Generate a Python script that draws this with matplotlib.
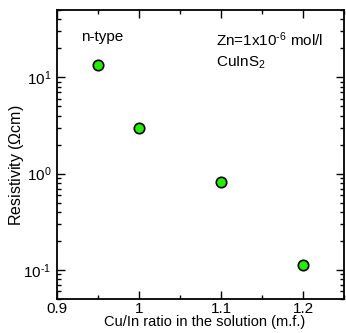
import matplotlib
matplotlib.use('Agg')
import matplotlib.pyplot as plt
from matplotlib.ticker import LogLocator, MultipleLocator, NullFormatter

plt.rcParams['font.family'] = ['Liberation Sans', 'DejaVu Sans']
plt.rcParams['mathtext.fontset'] = 'custom'
plt.rcParams['mathtext.rm'] = 'Liberation Sans'
plt.rcParams['mathtext.it'] = 'Liberation Sans'

# data
cu_in_ratio = [0.95, 1.0, 1.1, 1.2]
resistivity = [13.3, 2.95, 0.81, 0.112]

x_ticks = [0.9, 1.0, 1.1, 1.2]
x_labels = ['0.9', '1', '1.1', '1.2']
y_ticks = [0.1, 1, 10]
y_labels = ['10$^{\\text{-}1}$', '10$^{0}$', '10$^{1}$']

fig = plt.figure(figsize=(3.46, 3.33), dpi=100)
ax = fig.add_axes([57/346, 1 - 299/333, 287/346, 289/333])

ax.plot(cu_in_ratio, resistivity, 'o', ms=7.5, mfc='#22ee00', mec='black', mew=1.2)

ax.set_yscale('log')
ax.set_xlim(0.9, 1.25)
ax.set_ylim(0.05, 50)

ax.xaxis.set_minor_locator(MultipleLocator(0.05))
ax.set_xticks(x_ticks)
ax.set_xticklabels(x_labels)
ax.set_yticks(y_ticks)
ax.set_yticklabels(y_labels)
ax.yaxis.set_minor_locator(LogLocator(base=10, subs=range(2, 10), numticks=20))
ax.yaxis.set_minor_formatter(NullFormatter())

ax.tick_params(which='both', direction='in', top=True, right=True, labelsize=11, width=1)
ax.tick_params(axis='x', pad=2)
ax.tick_params(axis='y', pad=4)
ax.tick_params(which='major', length=6)
ax.tick_params(which='minor', length=3)
for s in ax.spines.values():
    s.set_linewidth(1.3)

ax.set_xlabel('Cu/In ratio in the solution (m.f.)', fontsize=10.5, va='center')
ax.xaxis.set_label_coords(0.516, -0.08)
ax.set_ylabel('Resistivity ($\\Omega$cm)', fontsize=11.5, va='center')
ax.yaxis.set_label_coords(-0.14, 0.464)

ax.text(0.085, 0.93, 'n-type', transform=ax.transAxes, fontsize=11, va='top')
ax.text(0.555, 0.93, 'Zn=1x10$^{\\text{-}6}$ mol/l', transform=ax.transAxes, fontsize=11, va='top')
ax.text(0.555, 0.845, 'CuInS$_2$', transform=ax.transAxes, fontsize=11, va='top')

fig.savefig('out.png', dpi=100)
